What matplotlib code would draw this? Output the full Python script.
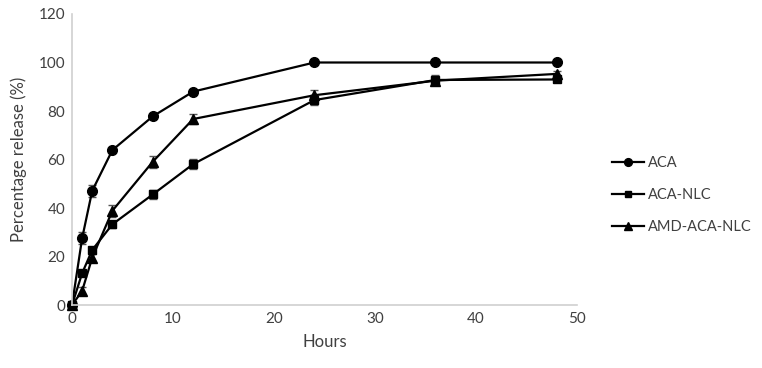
import matplotlib
matplotlib.use("Agg")
import matplotlib.pyplot as plt
from matplotlib.lines import Line2D

hours = [0, 1, 2, 4, 8, 12, 24, 36, 48]
aca = [0, 27.5, 47.1, 63.9, 77.8, 88.0, 100, 100, 100]
aca_err = [0, 2.5, 2.5, 0.8, 0.8, 0.8, 0.5, 0.5, 0.5]
nlc = [0, 13.1, 22.7, 33.3, 45.6, 58.1, 84.5, 92.8, 93.0]
nlc_err = [0, 1.0, 1.2, 1.5, 2.0, 2.0, 2.0, 2.0, 1.0]
amd = [0, 5.8, 19.5, 38.9, 59.1, 76.7, 86.5, 92.5, 95.3]
amd_err = [0, 1.5, 1.5, 2.5, 2.5, 2.0, 2.0, 1.0, 1.0]
labels = ["ACA", "ACA-NLC", "AMD-ACA-NLC"]

plt.rcParams['font.family'] = ['Lato', 'DejaVu Sans']
txt = '#404040'

fig = plt.figure(figsize=(7.62, 3.68), dpi=100)
ax = fig.add_axes([0.0945, 0.171, 0.6625, 0.791])

series = [(aca, aca_err, 'o', 7), (nlc, nlc_err, 's', 6), (amd, amd_err, '^', 7.5)]
for (vals, err, m, ms), lab in zip(series, labels):
    line, caps, bars = ax.errorbar(hours, vals, yerr=err, color='black', marker=m,
                                   markersize=ms, linewidth=1.6, ecolor='#555555',
                                   elinewidth=1, capsize=3, label=lab)
    line.set_clip_on(False)
    for c in caps:
        c.set_clip_on(False)
    for b in bars:
        b.set_clip_on(False)

ax.set_xlim(0, 50)
ax.set_ylim(0, 120)
ax.set_xticks(range(0, 51, 10))
ax.set_yticks(range(0, 121, 20))
ax.tick_params(axis='both', length=0, labelsize=11, colors=txt, pad=5)
for s in ['top', 'right']:
    ax.spines[s].set_visible(False)
for s in ['left', 'bottom']:
    ax.spines[s].set_color('#d0d0d0')
    ax.spines[s].set_linewidth(1.2)
ax.set_zorder(1)
ax.set_xlabel('Hours', fontsize=12, color=txt, labelpad=6)
ax.set_ylabel('Percentage release (%)', fontsize=12, color=txt, labelpad=8)

handles = [Line2D([0], [0], color='black', marker=m, markersize=ms * 0.8, linewidth=1.6)
           for (_, _, m, ms) in series]
fig.legend(handles, labels, loc='center left', bbox_to_anchor=(0.803, 0.47),
           frameon=False, fontsize=10.5, labelcolor=txt, handlelength=2.2,
           handletextpad=0.25, labelspacing=1.25, borderaxespad=0, borderpad=0)

fig.savefig('out.png', dpi=100)
